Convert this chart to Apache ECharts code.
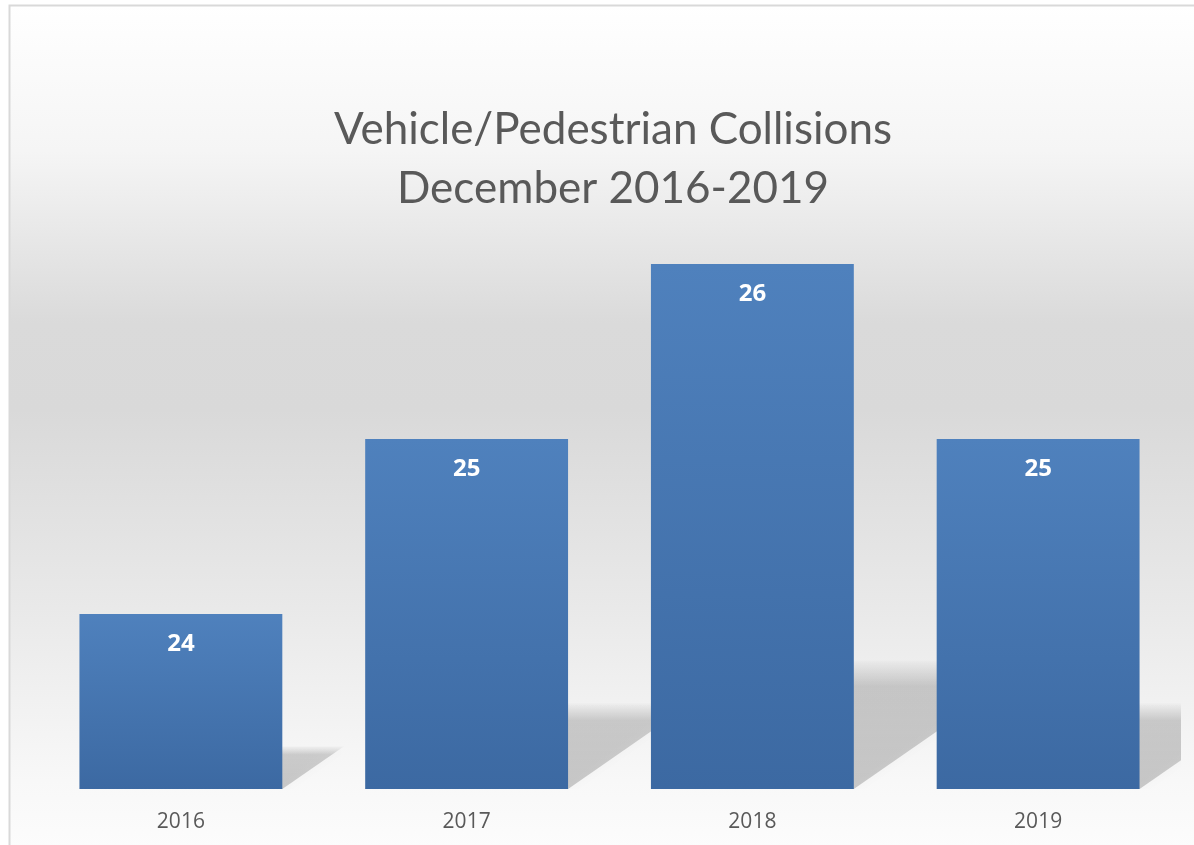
<!DOCTYPE html>
<html>
<head>
<meta charset="utf-8">
<title>Vehicle/Pedestrian Collisions</title>
<script src="https://cdn.jsdelivr.net/npm/echarts@6/dist/echarts.min.js"></script>
<style>
  html, body { margin: 0; padding: 0; background: #ffffff; }
  #main { width: 1194px; height: 845px; }
</style>
</head>
<body>
<div id="main"></div>
<script>
// data
let years = ['2016', '2017', '2018', '2019'];
let collisions = [24, 25, 26, 25];
let axisMin = 23;
let axisMax = 26;

let myChart = echarts.init(document.getElementById('main'));

// floor shadow behind each bar, built from the same values
let shadowData = collisions.map(function (v, i) { return [i, v]; });

function renderShadow(params, api) {
  let top = api.coord([api.value(0), api.value(1)]);
  let base = api.coord([api.value(0), axisMin]);
  let barW = api.size([1, 0])[0] * 0.71;
  let x0 = top[0] - barW / 2;
  let x1 = top[0] + barW / 2;
  let h = (base[1] - top[1]) * 0.245;
  let s = h * 1.44;
  return {
    type: 'polygon',
    shape: { points: [[x0, base[1]], [x1, base[1]], [x1 + s, base[1] - h], [x0 + s, base[1] - h]] },
    style: {
      fill: new echarts.graphic.LinearGradient(0, 0, 0, 1, [
        { offset: 0, color: 'rgba(0,0,0,0.01)' },
        { offset: 0.2, color: 'rgba(0,0,0,0.16)' },
        { offset: 1, color: 'rgba(0,0,0,0.19)' }
      ]),
      shadowBlur: 10,
      shadowColor: 'rgba(0,0,0,0.12)'
    }
  };
}

let option = {
  animation: false,
  graphic: [
    {
      type: 'rect',
      z: -10,
      silent: true,
      shape: { x: 9.5, y: 5.5, width: 1200, height: 860 },
      style: {
        fill: new echarts.graphic.LinearGradient(0, 0, 0, 1, [
          { offset: 0, color: '#ffffff' },
          { offset: 0.17, color: '#f5f5f5' },
          { offset: 0.37, color: '#dadada' },
          { offset: 0.47, color: '#d9d9d9' },
          { offset: 0.7, color: '#e9e9e9' },
          { offset: 0.9, color: '#f8f8f8' },
          { offset: 1, color: '#fdfdfd' }
        ]),
        stroke: '#d9d9d9',
        lineWidth: 2
      }
    }
  ],
  title: {
    text: 'Vehicle/Pedestrian Collisions\nDecember 2016-2019',
    left: 608,
    top: 95,
    textAlign: 'center',
    textStyle: {
      fontFamily: 'Lato',
      fontWeight: 'normal',
      fontSize: 44,
      lineHeight: 59,
      color: '#595959'
    }
  },
  grid: {
    left: 38,
    right: 13,
    top: 264,
    bottom: 56
  },
  xAxis: {
    type: 'category',
    data: years,
    axisLine: { show: false },
    axisTick: { show: false },
    axisLabel: {
      margin: 23,
      fontFamily: 'Open Sans',
      fontSize: 21,
      color: '#595959'
    }
  },
  yAxis: {
    type: 'value',
    min: axisMin,
    max: axisMax,
    show: false,
    splitLine: { show: false }
  },
  series: [
    {
      type: 'custom',
      z: 1,
      clip: true,
      silent: true,
      renderItem: renderShadow,
      encode: { x: 0, y: 1 },
      data: shadowData
    },
    {
      type: 'bar',
      z: 2,
      data: collisions,
      barCategoryGap: '29%',
      itemStyle: {
        color: new echarts.graphic.LinearGradient(0, 0, 0, 1, [
          { offset: 0, color: '#4f81bd' },
          { offset: 1, color: '#3c69a2' }
        ])
      },
      label: {
        show: true,
        position: 'insideTop',
        distance: 18,
        fontFamily: 'Open Sans',
        fontWeight: 'bold',
        fontSize: 24,
        color: '#ffffff'
      }
    }
  ]
};

myChart.setOption(option);
</script>
</body>
</html>
